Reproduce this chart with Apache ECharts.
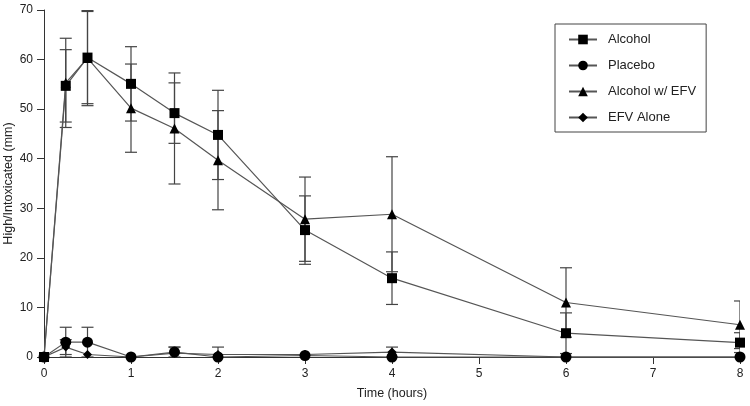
<!DOCTYPE html>
<html>
<head>
<meta charset="utf-8">
<script src="https://cdn.jsdelivr.net/npm/echarts@6/dist/echarts.min.js"></script>
<style>html,body{margin:0;padding:0;background:#fff;}#c{width:750px;height:406px;}</style>
</head>
<body>
<div id="c"></div>
<script>
const times = [0, 0.25, 0.5, 1, 1.5, 2, 3, 4, 6, 8];
const alcohol = [0, 54.7, 60.4, 55.1, 49.2, 44.8, 25.6, 15.9, 4.8, 2.9];
const alcoholErr = [0, 7.3, 9.3, 7.5, 6.1, 9.0, 6.9, 5.3, 4.1, 2.0];
const placebo = [0, 3.0, 3.0, 0, 1.0, 0, 0.3, 0, 0, 0];
const placeboErr = [0, 3.0, 3.0, 0, 1.0, 2.0, 0, 0, 0, 0];
const alcoholEfv = [0, 55.3, 60.3, 50.2, 46.1, 39.7, 27.8, 28.8, 11.0, 6.5];
const alcoholEfvErr = [0, 9.0, 9.6, 8.9, 11.2, 10.0, 8.5, 11.6, 7.0, 4.8];
const efvAlone = [0, 2.0, 0.5, 0, 0.8, 0.5, 0.5, 1.0, 0, 0];
const efvAloneErr = [0, 1.5, 0, 0, 1.2, 0, 0, 1.0, 0, 0];
const seriesNames = ['Alcohol', 'Placebo', 'Alcohol w/ EFV', 'EFV Alone'];
const xTicks = [0, 1, 2, 3, 4, 5, 6, 7, 8];

const font = 'Liberation Sans, Arial, sans-serif';
const chart = echarts.init(document.getElementById('c'), null, {renderer: 'canvas'});

function pts(vals) { return times.map((t, i) => [t, vals[i]]); }
function errPts(vals, errs) { return times.map((t, i) => [t, vals[i] - errs[i], vals[i] + errs[i]]).filter((d, i) => errs[i] > 0); }

function errSeries(vals, errs) {
  return {
    type: 'custom',
    clip: true,
    z: 1,
    silent: true,
    data: errPts(vals, errs),
    renderItem: function (params, api) {
      const x = api.value(0);
      const lo = api.coord([x, api.value(1)]);
      const hi = api.coord([x, api.value(2)]);
      const w = 6;
      const st = {stroke: '#444', lineWidth: 1.2};
      return {
        type: 'group',
        children: [
          {type: 'line', shape: {x1: hi[0], y1: hi[1], x2: lo[0], y2: lo[1]}, style: st},
          {type: 'line', shape: {x1: hi[0] - w, y1: hi[1], x2: hi[0] + w, y2: hi[1]}, style: st},
          {type: 'line', shape: {x1: lo[0] - w, y1: lo[1], x2: lo[0] + w, y2: lo[1]}, style: st}
        ]
      };
    }
  };
}

const symbols = ['rect', 'circle', 'triangle', 'diamond'];
const sizes = [10, 11, 10, 9];
const lineVals = [alcohol, placebo, alcoholEfv, efvAlone];
const errVals = [alcoholErr, placeboErr, alcoholEfvErr, efvAloneErr];

const series = [];
lineVals.forEach((v, i) => series.push(errSeries(v, errVals[i])));
lineVals.forEach((v, i) => series.push({
  name: seriesNames[i],
  type: 'line',
  z: 3,
  data: pts(v),
  symbol: symbols[i],
  symbolSize: sizes[i],
  showAllSymbol: true,
  clip: false,
  lineStyle: {color: '#555', width: 1.2},
  itemStyle: {color: '#000', borderWidth: 0},
  emphasis: {disabled: true},
  animation: false
}));

chart.setOption({
  animation: false,
  backgroundColor: '#fff',
  grid: {left: 44, right: 10, top: 10, bottom: 49, containLabel: false, outerBoundsMode: 'none'},
  legend: {
    orient: 'vertical',
    left: 555,
    top: 24,
    data: seriesNames,
    itemWidth: 28,
    itemHeight: 12,
    itemGap: 13,
    padding: [9, 10, 8, 13],
    borderColor: '#444',
    borderWidth: 1,
    textStyle: {fontFamily: font, fontSize: 13, color: '#222', padding: [0, 0, 0, 6]}
  },
  xAxis: {
    type: 'value',
    min: 0, max: 8, interval: 1,
    name: 'Time (hours)',
    nameLocation: 'middle',
    nameGap: 30,
    nameMoveOverlap: false,
    nameTextStyle: {fontFamily: font, fontSize: 12.5, color: '#222'},
    axisLine: {lineStyle: {color: '#333', width: 1}},
    axisTick: {show: true, length: 7, lineStyle: {color: '#333'}},
    axisLabel: {fontFamily: font, fontSize: 12, color: '#222', margin: 11,
      formatter: v => xTicks.includes(v) ? String(v) : ''},
    splitLine: {show: false}
  },
  yAxis: {
    type: 'value',
    min: 0, max: 70, interval: 10,
    name: 'High/Intoxicated (mm)',
    nameLocation: 'middle',
    nameGap: 29,
    nameMoveOverlap: false,
    nameTextStyle: {fontFamily: font, fontSize: 12.5, color: '#222'},
    axisLine: {show: true, lineStyle: {color: '#333', width: 1}},
    axisTick: {show: true, length: 7, lineStyle: {color: '#333'}},
    axisLabel: {fontFamily: font, fontSize: 12, color: '#222', margin: 11},
    splitLine: {show: false}
  },
  series: series
});
</script>
</body>
</html>
